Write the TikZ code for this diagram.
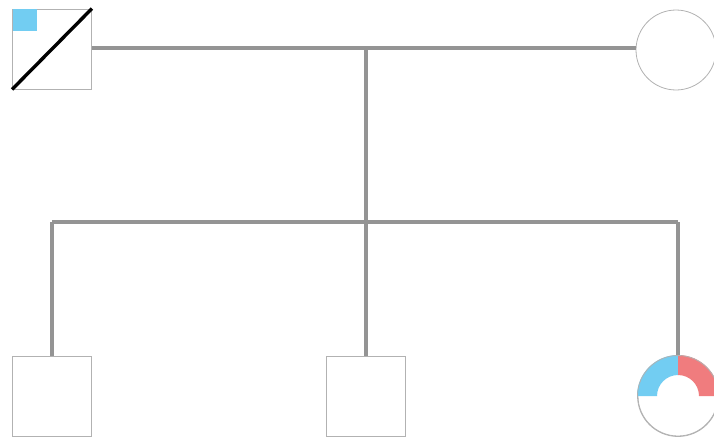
\documentclass[tikz,border=0pt]{standalone}
\begin{document}
\begin{tikzpicture}[x=1pt,y=-1pt,
  link/.style={draw=black!42,line width=3.2pt},
  shapeline/.style={draw=black!30,line width=0.8pt},
  sq/.style={shapeline,rectangle,minimum width=79pt,minimum height=80pt,inner sep=0pt,fill=white},
  circ/.style={shapeline,circle,minimum size=80pt,inner sep=0pt,fill=white}]
\definecolor{pblue}{HTML}{72CDF2}
\definecolor{pred}{HTML}{F07C7E}
\useasboundingbox (0,0) rectangle (714,439);
% nodes
\node[sq] (father) at (52,49) {};
\node[circ] (mother) at (676,50) {};
\node[sq] (c1) at (52,396) {};
\node[sq] (c2) at (366,396) {};
\node[circ] (c3) at (678,396) {};
\coordinate (mid) at (366,48);
\coordinate (sib) at (366,222);
\coordinate (sibL) at (52,222);
\coordinate (sibR) at (678,222);
% connectors
\draw[link] (father.east |- mid) -- (mother.west |- mid);
\draw[link] (mid) -- (sib);
\draw[link] (sibL) -- (sibR);
\draw[link] (sibL) -- (c1.north);
\draw[link] (sib) -- (c2.north);
\draw[link] (sibR) -- (c3.north);
% father details
\fill[pblue] (father.north west) ++(0.5,0.5) rectangle ++(24,22);
\draw[black,line width=3.4pt] (father.south west) -- (father.north east);
% affected daughter: upper ring quadrants
\fill[pblue] (c3.center) ++(-41,0) arc[start angle=180,end angle=270,radius=41] -- ++(0,20) arc[start angle=270,end angle=180,radius=21] -- cycle;
\fill[pred] (c3.center) ++(0,-41) arc[start angle=270,end angle=360,radius=41] -- ++(-20,0) arc[start angle=360,end angle=270,radius=21] -- cycle;
\draw[shapeline] (c3.center) circle[radius=40.5];
\end{tikzpicture}
\end{document}
